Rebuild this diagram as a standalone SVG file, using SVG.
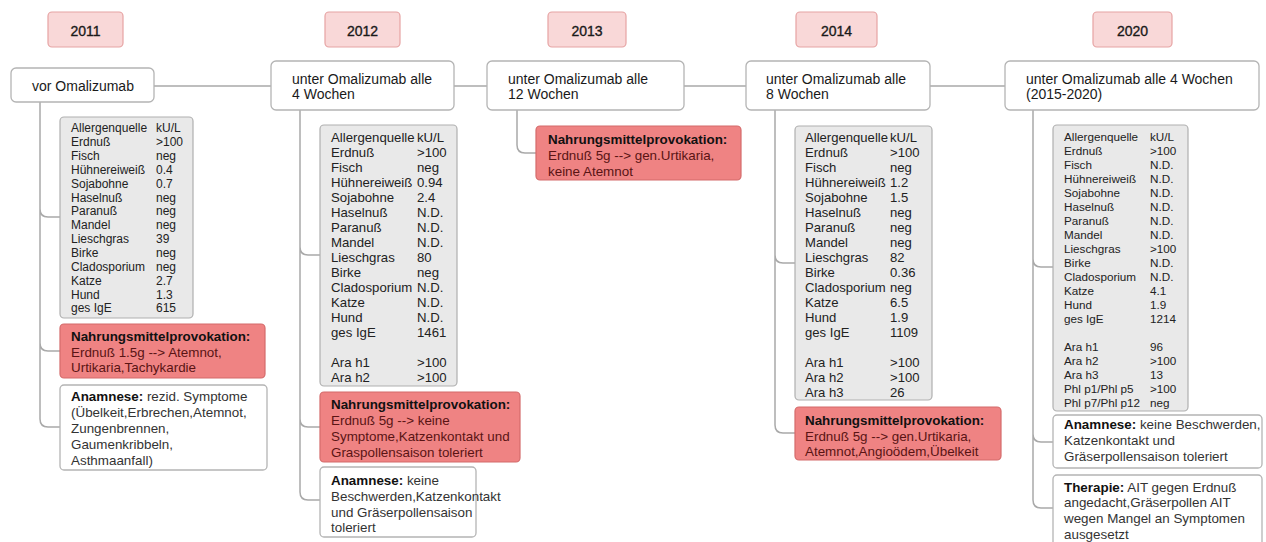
<svg xmlns="http://www.w3.org/2000/svg" width="1266" height="542" viewBox="0 0 1266 542">
<style>
text{font-family:"Liberation Sans",Arial,Helvetica,sans-serif;fill:#222}
.yr{fill:#f9d8d8;stroke:#e6a3a3;stroke-width:1.2}
.yt{font-size:14px;text-anchor:middle;fill:#1a1a1a;stroke:#1a1a1a;stroke-width:0.35}
.node{fill:#fff;stroke:#b4b4b4;stroke-width:1.3}
.nt{font-size:14px;fill:#1a1a1a}
.tab{fill:#e9e9e9;stroke:#b0b0b0;stroke-width:1.2}
.red{fill:#ef8383;stroke:#d46b6b;stroke-width:1.2}
.rt{font-size:13.4px;fill:#5a1414}
.at{font-size:13.4px;fill:#333}
.b{font-weight:bold;fill:#111}
.con{fill:none;stroke:#a9a9a9;stroke-width:1.5}
</style>

<g id="connectors">
<path class="con" d="M154 86H271M454 86H487M684 86H746M930 86H1005"/>
<path class="con" d="M40 102V419Q40 427 48 427H60M40 209Q40 217 48 217H60M40 343Q40 351 48 351H60"/>
<path class="con" d="M300 110V492Q300 500 308 500H320M300 247Q300 255 308 255H320M300 419Q300 427 308 427H320"/>
<path class="con" d="M517 110V145Q517 153 525 153H536"/>
<path class="con" d="M775 110V425Q775 433 783 433H795M775 255Q775 263 783 263H795"/>
<path class="con" d="M1033 110V500Q1033 508 1041 508H1053M1033 259Q1033 267 1041 267H1053M1033 434Q1033 442 1041 442H1053"/>
</g>

<g id="year2011"><rect class="yr" x="48" y="12" width="75" height="35" rx="4"/><text class="yt" x="85.5" y="35.5">2011</text></g>
<g id="year2012"><rect class="yr" x="325" y="12" width="75" height="35" rx="4"/><text class="yt" x="362.5" y="35.5">2012</text></g>
<g id="year2013"><rect class="yr" x="548" y="12" width="78" height="35" rx="4"/><text class="yt" x="587" y="35.5">2013</text></g>
<g id="year2014"><rect class="yr" x="796" y="12" width="81" height="35" rx="4"/><text class="yt" x="836.5" y="35.5">2014</text></g>
<g id="year2020"><rect class="yr" x="1093" y="12" width="79" height="35" rx="4"/><text class="yt" x="1132.5" y="35.5">2020</text></g>

<g id="node2011"><rect class="node" x="11" y="68" width="143" height="34" rx="5"/><text class="nt" x="32" y="91">vor Omalizumab</text></g>
<g id="node2012"><rect class="node" x="271" y="61" width="183" height="49" rx="5"/><text class="nt" x="292" y="84">unter Omalizumab alle</text><text class="nt" x="292" y="99">4 Wochen</text></g>
<g id="node2013"><rect class="node" x="487" y="61" width="197" height="49" rx="5"/><text class="nt" x="508" y="84">unter Omalizumab alle</text><text class="nt" x="508" y="99">12 Wochen</text></g>
<g id="node2014"><rect class="node" x="746" y="61" width="184" height="49" rx="5"/><text class="nt" x="766" y="84">unter Omalizumab alle</text><text class="nt" x="766" y="99">8 Wochen</text></g>
<g id="node2020"><rect class="node" x="1005" y="61" width="254" height="49" rx="5"/><text class="nt" x="1026" y="84">unter Omalizumab alle 4 Wochen</text><text class="nt" x="1026" y="99">(2015-2020)</text></g>

<g id="table2011" font-size="12">
<rect class="tab" x="60" y="117" width="133" height="201" rx="4"/>
<text y="132.3"><tspan x="71">Allergenquelle</tspan><tspan x="156">kU/L</tspan></text>
<text y="146.2"><tspan x="71">Erdnuß</tspan><tspan x="156">&gt;100</tspan></text>
<text y="160"><tspan x="71">Fisch</tspan><tspan x="156">neg</tspan></text>
<text y="173.9"><tspan x="71">Hühnereiweiß</tspan><tspan x="156">0.4</tspan></text>
<text y="187.7"><tspan x="71">Sojabohne</tspan><tspan x="156">0.7</tspan></text>
<text y="201.6"><tspan x="71">Haselnuß</tspan><tspan x="156">neg</tspan></text>
<text y="215.4"><tspan x="71">Paranuß</tspan><tspan x="156">neg</tspan></text>
<text y="229.3"><tspan x="71">Mandel</tspan><tspan x="156">neg</tspan></text>
<text y="243.1"><tspan x="71">Lieschgras</tspan><tspan x="156">39</tspan></text>
<text y="257"><tspan x="71">Birke</tspan><tspan x="156">neg</tspan></text>
<text y="270.8"><tspan x="71">Cladosporium</tspan><tspan x="156">neg</tspan></text>
<text y="284.7"><tspan x="71">Katze</tspan><tspan x="156">2.7</tspan></text>
<text y="298.5"><tspan x="71">Hund</tspan><tspan x="156">1.3</tspan></text>
<text y="312.4"><tspan x="71">ges IgE</tspan><tspan x="156">615</tspan></text>
</g>

<g id="provo2011"><rect class="red" x="60" y="324" width="205" height="54" rx="4"/>
<text class="rt b" x="71" y="341">Nahrungsmittelprovokation:</text>
<text class="rt" x="71" y="357">Erdnuß 1.5g --&gt; Atemnot,</text>
<text class="rt" x="71" y="372">Urtikaria,Tachykardie</text></g>

<g id="anamnese2011"><rect class="node" x="60" y="385" width="207" height="85" rx="4"/>
<text class="at" x="71" y="401"><tspan class="b">Anamnese:</tspan> rezid. Symptome</text>
<text class="at" x="71" y="417">(Übelkeit,Erbrechen,Atemnot,</text>
<text class="at" x="71" y="433">Zungenbrennen,</text>
<text class="at" x="71" y="449">Gaumenkribbeln,</text>
<text class="at" x="71" y="465">Asthmaanfall)</text></g>

<g id="table2012" font-size="13.2">
<rect class="tab" x="320" y="125" width="137" height="261" rx="4"/>
<text y="141.5"><tspan x="331">Allergenquelle</tspan><tspan x="417">kU/L</tspan></text>
<text y="156.5"><tspan x="331">Erdnuß</tspan><tspan x="417">&gt;100</tspan></text>
<text y="171.5"><tspan x="331">Fisch</tspan><tspan x="417">neg</tspan></text>
<text y="186.5"><tspan x="331">Hühnereiweiß</tspan><tspan x="417">0.94</tspan></text>
<text y="201.5"><tspan x="331">Sojabohne</tspan><tspan x="417">2.4</tspan></text>
<text y="216.5"><tspan x="331">Haselnuß</tspan><tspan x="417">N.D.</tspan></text>
<text y="231.5"><tspan x="331">Paranuß</tspan><tspan x="417">N.D.</tspan></text>
<text y="246.5"><tspan x="331">Mandel</tspan><tspan x="417">N.D.</tspan></text>
<text y="261.5"><tspan x="331">Lieschgras</tspan><tspan x="417">80</tspan></text>
<text y="276.5"><tspan x="331">Birke</tspan><tspan x="417">neg</tspan></text>
<text y="291.5"><tspan x="331">Cladosporium</tspan><tspan x="417">N.D.</tspan></text>
<text y="306.5"><tspan x="331">Katze</tspan><tspan x="417">N.D.</tspan></text>
<text y="321.5"><tspan x="331">Hund</tspan><tspan x="417">N.D.</tspan></text>
<text y="336.5"><tspan x="331">ges IgE</tspan><tspan x="417">1461</tspan></text>
<text y="366.5"><tspan x="331">Ara h1</tspan><tspan x="417">&gt;100</tspan></text>
<text y="381.5"><tspan x="331">Ara h2</tspan><tspan x="417">&gt;100</tspan></text>
</g>

<g id="provo2012"><rect class="red" x="320" y="392" width="200" height="70" rx="4"/>
<text class="rt b" x="331" y="409">Nahrungsmittelprovokation:</text>
<text class="rt" x="331" y="425">Erdnuß 5g --&gt; keine</text>
<text class="rt" x="331" y="441">Symptome,Katzenkontakt und</text>
<text class="rt" x="331" y="457">Graspollensaison toleriert</text></g>

<g id="anamnese2012"><rect class="node" x="320" y="467" width="156" height="70" rx="4"/>
<text class="at" x="331" y="485"><tspan class="b">Anamnese:</tspan> keine</text>
<text class="at" x="331" y="501">Beschwerden,Katzenkontakt</text>
<text class="at" x="331" y="517">und Gräserpollensaison</text>
<text class="at" x="331" y="532">toleriert</text></g>

<g id="provo2013"><rect class="red" x="536" y="126" width="205" height="54" rx="4"/>
<text class="rt b" x="548" y="144">Nahrungsmittelprovokation:</text>
<text class="rt" x="548" y="160">Erdnuß 5g --&gt; gen.Urtikaria,</text>
<text class="rt" x="548" y="176">keine Atemnot</text></g>

<g id="table2014" font-size="13.1">
<rect class="tab" x="795" y="126" width="137" height="274" rx="4"/>
<text y="141.5"><tspan x="805">Allergenquelle</tspan><tspan x="890">kU/L</tspan></text>
<text y="156.5"><tspan x="805">Erdnuß</tspan><tspan x="890">&gt;100</tspan></text>
<text y="171.5"><tspan x="805">Fisch</tspan><tspan x="890">neg</tspan></text>
<text y="186.5"><tspan x="805">Hühnereiweiß</tspan><tspan x="890">1.2</tspan></text>
<text y="201.5"><tspan x="805">Sojabohne</tspan><tspan x="890">1.5</tspan></text>
<text y="216.5"><tspan x="805">Haselnuß</tspan><tspan x="890">neg</tspan></text>
<text y="231.5"><tspan x="805">Paranuß</tspan><tspan x="890">neg</tspan></text>
<text y="246.5"><tspan x="805">Mandel</tspan><tspan x="890">neg</tspan></text>
<text y="261.5"><tspan x="805">Lieschgras</tspan><tspan x="890">82</tspan></text>
<text y="276.5"><tspan x="805">Birke</tspan><tspan x="890">0.36</tspan></text>
<text y="291.5"><tspan x="805">Cladosporium</tspan><tspan x="890">neg</tspan></text>
<text y="306.5"><tspan x="805">Katze</tspan><tspan x="890">6.5</tspan></text>
<text y="321.5"><tspan x="805">Hund</tspan><tspan x="890">1.9</tspan></text>
<text y="336.5"><tspan x="805">ges IgE</tspan><tspan x="890">1109</tspan></text>
<text y="366.5"><tspan x="805">Ara h1</tspan><tspan x="890">&gt;100</tspan></text>
<text y="381.5"><tspan x="805">Ara h2</tspan><tspan x="890">&gt;100</tspan></text>
<text y="396.5"><tspan x="805">Ara h3</tspan><tspan x="890">26</tspan></text>
</g>

<g id="provo2014"><rect class="red" x="795" y="407" width="206" height="53" rx="4"/>
<text class="rt b" x="805" y="425">Nahrungsmittelprovokation:</text>
<text class="rt" x="805" y="441">Erdnuß 5g --&gt; gen.Urtikaria,</text>
<text class="rt" x="805" y="456">Atemnot,Angioödem,Übelkeit</text></g>

<g id="table2020" font-size="11.7">
<rect class="tab" x="1053" y="125" width="135" height="286" rx="4"/>
<text y="141"><tspan x="1064">Allergenquelle</tspan><tspan x="1150">kU/L</tspan></text>
<text y="155"><tspan x="1064">Erdnuß</tspan><tspan x="1150">&gt;100</tspan></text>
<text y="169"><tspan x="1064">Fisch</tspan><tspan x="1150">N.D.</tspan></text>
<text y="183"><tspan x="1064">Hühnereiweiß</tspan><tspan x="1150">N.D.</tspan></text>
<text y="197"><tspan x="1064">Sojabohne</tspan><tspan x="1150">N.D.</tspan></text>
<text y="211"><tspan x="1064">Haselnuß</tspan><tspan x="1150">N.D.</tspan></text>
<text y="225"><tspan x="1064">Paranuß</tspan><tspan x="1150">N.D.</tspan></text>
<text y="239"><tspan x="1064">Mandel</tspan><tspan x="1150">N.D.</tspan></text>
<text y="253"><tspan x="1064">Lieschgras</tspan><tspan x="1150">&gt;100</tspan></text>
<text y="267"><tspan x="1064">Birke</tspan><tspan x="1150">N.D.</tspan></text>
<text y="281"><tspan x="1064">Cladosporium</tspan><tspan x="1150">N.D.</tspan></text>
<text y="295"><tspan x="1064">Katze</tspan><tspan x="1150">4.1</tspan></text>
<text y="309"><tspan x="1064">Hund</tspan><tspan x="1150">1.9</tspan></text>
<text y="323"><tspan x="1064">ges IgE</tspan><tspan x="1150">1214</tspan></text>
<text y="351"><tspan x="1064">Ara h1</tspan><tspan x="1150">96</tspan></text>
<text y="365"><tspan x="1064">Ara h2</tspan><tspan x="1150">&gt;100</tspan></text>
<text y="379"><tspan x="1064">Ara h3</tspan><tspan x="1150">13</tspan></text>
<text y="393"><tspan x="1064">Phl p1/Phl p5</tspan><tspan x="1150">&gt;100</tspan></text>
<text y="407"><tspan x="1064">Phl p7/Phl p12</tspan><tspan x="1150">neg</tspan></text>
</g>

<g id="anamnese2020"><rect class="node" x="1053" y="415" width="209" height="53" rx="4"/>
<text class="at" x="1064" y="429"><tspan class="b">Anamnese:</tspan> keine Beschwerden,</text>
<text class="at" x="1064" y="445">Katzenkontakt und</text>
<text class="at" x="1064" y="461">Gräserpollensaison toleriert</text></g>

<g id="therapie2020"><rect class="node" x="1053" y="475" width="209" height="80" rx="4"/>
<text class="at" x="1064" y="492"><tspan class="b">Therapie:</tspan> AIT gegen Erdnuß</text>
<text class="at" x="1064" y="507">angedacht,Gräserpollen AIT</text>
<text class="at" x="1064" y="523">wegen Mangel an Symptomen</text>
<text class="at" x="1064" y="539">ausgesetzt</text></g>
</svg>
